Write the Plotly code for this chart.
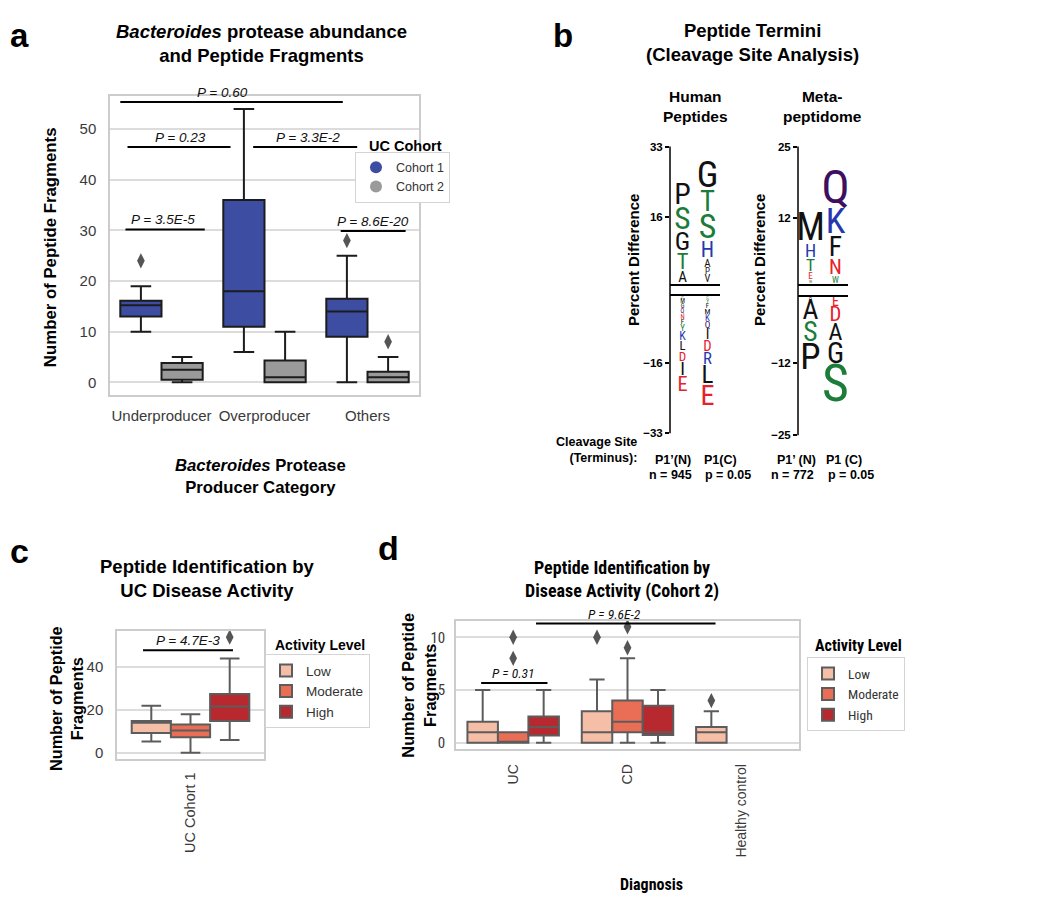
import plotly.graph_objects as go

OFF = 8  # browser body margin
W, H = 1050 - 2 * OFF, 902 - 2 * OFF
Y_SHIFT, Y_SCALE = 3.85, 0.991  # empirical page-to-picture mapping


def px(x):
    return (x - OFF) / W


def py(y):
    return 1 - ((y - Y_SHIFT) / Y_SCALE - OFF) / H


FONT = "Liberation Sans, Arial, sans-serif"
NARROW = "Liberation Sans Narrow, Arial Narrow, Roboto Condensed, Noto Sans Condensed, Liberation Sans, sans-serif"
LOGO_FONT = "Noto Sans ExtraCondensed, Noto Sans Condensed, Roboto Condensed, Liberation Sans Narrow, DejaVu Sans Condensed, sans-serif"
TICK_COL = "#3a3a3a"

# ---------------- Panel a data ----------------
a_categories = ["Underproducer", "Overproducer", "Others"]
a_cohorts = ["Cohort 1", "Cohort 2"]
a_c1_lower = [10, 6, 0]
a_c1_q1 = [13, 11, 9]
a_c1_median = [15.2, 18, 14]
a_c1_q3 = [16.1, 36, 16.5]
a_c1_upper = [19, 54, 25]
a_c1_outliers = [[24], [], [28]]
a_c2_lower = [0, 0, 0]
a_c2_q1 = [0.5, 0, 0]
a_c2_median = [2.5, 1, 1]
a_c2_q3 = [3.8, 4.3, 2.1]
a_c2_upper = [5, 10, 5]
a_c2_outliers = [[], [], [8]]
a_brackets = [  # x0, x1, y, text x, label
    (-0.40, 1.76, 55.4, 0.59, "P = 0.60"),
    (-0.33, 0.67, 46.5, 0.18, "P = 0.23"),
    (0.89, 1.90, 46.5, 1.42, "P = 3.3E-2"),
    (-0.35, 0.42, 30.2, 0.01, "P = 3.5E-5"),
    (1.74, 2.37, 29.9, 2.05, "P = 8.6E-20"),
]

# ---------------- Panel b data (sequence logos) ----------------
human_n_pos_letters = ["A", "T", "G", "S", "P"]
human_n_pos_heights = [2.9, 4.3, 5.0, 6.0, 5.7]
human_c_pos_letters = ["V", "P", "A", "H", "S", "T", "G"]
human_c_pos_heights = [2.0, 1.7, 2.1, 4.1, 6.5, 5.5, 7.0]
human_n_neg_letters = ["C", "M", "G", "Q", "N", "F", "Y", "K", "L", "D", "I", "E"]
human_n_neg_heights = [0.8, 1.2, 1.2, 1.2, 1.3, 1.4, 1.7, 2.3, 2.4, 2.5, 3.6, 3.9]
human_c_neg_letters = ["C", "Y", "F", "M", "K", "Q", "I", "D", "R", "L", "E"]
human_c_neg_heights = [0.8, 1.0, 1.3, 1.5, 1.7, 1.8, 2.8, 2.8, 3.2, 4.8, 5.4]
meta_n_pos_letters = ["W", "E", "T", "H", "M"]
meta_n_pos_heights = [0.6, 1.3, 2.5, 2.6, 5.5]
meta_c_pos_letters = ["W", "N", "F", "K", "Q"]
meta_c_pos_heights = [1.3, 3.0, 4.0, 5.2, 6.8]
meta_n_neg_letters = ["Q", "A", "S", "P"]
meta_n_neg_heights = [0.8, 4.0, 4.0, 5.3]
meta_c_neg_letters = ["E", "D", "A", "G", "S"]
meta_c_neg_heights = [2.0, 3.0, 3.5, 4.2, 7.5]
human_range = 33
human_ticks = [16, 33]
meta_range = 25
meta_ticks = [12, 25]

# ---------------- Panel c data ----------------
activity_levels = ["Low", "Moderate", "High"]
c_categories = ["UC Cohort 1"]
c_lower = [5.3, 0, 6]
c_q1 = [9.3, 7.3, 14.9]
c_median = [14, 10.4, 21.6]
c_q3 = [14.9, 13.2, 27.4]
c_upper = [22, 18, 44]
c_outliers = [[], [], [54]]
c_brackets = [(-0.323, 0.289, 47.9, -0.02, "P = 4.7E-3")]

# ---------------- Panel d data ----------------
d_categories = ["UC", "CD", "Healthy control"]
d_low_lower = [0, 0, 0]
d_low_q1 = [0, 0, 0]
d_low_median = [1, 1, 1]
d_low_q3 = [2, 3, 1.5]
d_low_upper = [5, 6, 3]
d_low_outliers = [[], [10], [4]]
d_mod_lower = [0, 0]
d_mod_q1 = [0, 1]
d_mod_median = [0, 2]
d_mod_q3 = [1, 4]
d_mod_upper = [0, 8]
d_mod_outliers = [[8, 10], [9, 11]]
d_high_lower = [0, 0]
d_high_q1 = [0.7, 0.75]
d_high_median = [1.5, 1]
d_high_q3 = [2.5, 3.5]
d_high_upper = [5, 5]
d_high_outliers = [[], []]
d_brackets = [
    (-0.28, 0.30, 5.66, 0.0, "P = 0.31"),
    (0.20, 1.77, 11.3, 0.89, "P = 9.6E-2"),
]

# ---------------- styles ----------------
A_COLORS = ["#3d4ea2", "#9a9a9a"]
A_LINE = "#1c1c1c"
ACT_COLORS = ["#f4bea7", "#ea6e55", "#b8292f"]
ACT_LINE = "#5c5c5c"
OUT_COL = "#555555"
LETTER_COLORS = {
    "A": "#111111", "G": "#111111", "P": "#111111", "M": "#111111", "F": "#111111",
    "L": "#111111", "I": "#111111", "V": "#111111",
    "S": "#1b7d39", "T": "#1b7d39", "Y": "#1b7d39", "W": "#1b7d39", "C": "#1b7d39",
    "H": "#2638b0", "K": "#2638b0", "R": "#2638b0",
    "D": "#e8202a", "E": "#e8202a", "N": "#e8202a",
    "Q": "#3e0f5f",
}

fig = go.Figure()


def add_boxes(cats, stats_list, colors, line_col, width, xa, ya, legend, names, outliers_list, showlegend):
    n = len(stats_list)
    for h, (stats, col, name, outs) in enumerate(zip(stats_list, colors, names, outliers_list)):
        lo, q1, med, q3, hi = stats
        off = (h - (n - 1) / 2) * width
        xs = [i + off for i in range(len(q1))]
        fig.add_trace(go.Box(
            x=xs, q1=q1, median=med, q3=q3, lowerfence=lo, upperfence=hi,
            width=width, fillcolor=col, line=dict(color=line_col, width=2),
            whiskerwidth=0.5, boxpoints=False, name=name, xaxis=xa, yaxis=ya,
            legend=legend, showlegend=showlegend, hoverinfo="skip"))
        ox, oy = [], []
        for i, vals in enumerate(outs):
            for v in vals:
                ox.append(i + off)
                oy.append(v)
        if ox:
            fig.add_trace(go.Scatter(
                x=ox, y=oy, mode="markers", xaxis=xa, yaxis=ya, showlegend=False,
                marker=dict(symbol="diamond-tall", size=11, color=OUT_COL),
                hoverinfo="skip", cliponaxis=False))


# Panel a boxes
add_boxes(a_categories,
          [(a_c1_lower, a_c1_q1, a_c1_median, a_c1_q3, a_c1_upper),
           (a_c2_lower, a_c2_q1, a_c2_median, a_c2_q3, a_c2_upper)],
          A_COLORS, A_LINE, 0.4, "x", "y", "legend", a_cohorts,
          [a_c1_outliers, a_c2_outliers], False)
for name, col in zip(a_cohorts, A_COLORS):
    fig.add_trace(go.Scatter(x=[None], y=[None], mode="markers", name=name,
                             marker=dict(symbol="circle", size=12, color=col),
                             xaxis="x", yaxis="y", legend="legend"))

# Panel c boxes
add_boxes(c_categories,
          [([c_lower[i]], [c_q1[i]], [c_median[i]], [c_q3[i]], [c_upper[i]]) for i in range(3)],
          ACT_COLORS, ACT_LINE, 0.8 / 3, "x2", "y2", "legend2", activity_levels,
          [[c_outliers[i]] for i in range(3)], True)

# Panel d boxes
add_boxes(d_categories,
          [(d_low_lower, d_low_q1, d_low_median, d_low_q3, d_low_upper),
           (d_mod_lower, d_mod_q1, d_mod_median, d_mod_q3, d_mod_upper),
           (d_high_lower, d_high_q1, d_high_median, d_high_q3, d_high_upper)],
          ACT_COLORS, ACT_LINE, 0.8 / 3, "x3", "y3", "legend3", activity_levels,
          [d_low_outliers, d_mod_outliers, d_high_outliers], True)

# Logos
HUM_PPU = 138 / human_range
META_PPU = 138 / meta_range
LETTER_SCALE = 0.9 / 0.72


def add_logo(letters, heights, col, sign, ppu, xa, ya):
    ys, cum = [], 0.0
    for h in heights:
        ys.append(sign * (cum + h / 2))
        cum += h
    fig.add_trace(go.Scatter(
        x=[col + 0.5] * len(letters), y=ys, mode="text", text=letters,
        textposition="middle center",
        textfont=dict(size=[h * ppu * LETTER_SCALE for h in heights],
                      color=[LETTER_COLORS[l] for l in letters], family=LOGO_FONT),
        xaxis=xa, yaxis=ya, showlegend=False, cliponaxis=False, hoverinfo="skip"))


add_logo(human_n_pos_letters, human_n_pos_heights, 0, 1, HUM_PPU, "x4", "y4")
add_logo(human_c_pos_letters, human_c_pos_heights, 1, 1, HUM_PPU, "x4", "y4")
add_logo(human_n_neg_letters, human_n_neg_heights, 0, -1, HUM_PPU, "x5", "y5")
add_logo(human_c_neg_letters, human_c_neg_heights, 1, -1, HUM_PPU, "x5", "y5")
add_logo(meta_n_pos_letters, meta_n_pos_heights, 0, 1, META_PPU, "x6", "y6")
add_logo(meta_c_pos_letters, meta_c_pos_heights, 1, 1, META_PPU, "x6", "y6")
add_logo(meta_n_neg_letters, meta_n_neg_heights, 0, -1, META_PPU, "x7", "y7")
add_logo(meta_c_neg_letters, meta_c_neg_heights, 1, -1, META_PPU, "x7", "y7")

# ---------------- axes ----------------
box_axis = dict(showline=True, mirror=True, linecolor="#cccccc", linewidth=1.5,
                zeroline=False, ticks="outside", tickcolor="rgba(0,0,0,0)")
layout = dict(
    width=W, height=H, margin=dict(l=0, r=0, t=0, b=0),
    paper_bgcolor="white", plot_bgcolor="white",
    font=dict(family=FONT, color="#000"), boxmode="overlay",
    xaxis=dict(domain=[px(110), px(419)], range=[-0.5, 2.5], tickvals=[0, 1, 2],
               ticktext=a_categories, showgrid=False, ticklen=6,
               tickfont=dict(size=15, color=TICK_COL), anchor="y", **box_axis),
    yaxis=dict(domain=[py(395), py(94)], range=[-2.6, 56.6], tickvals=[0, 10, 20, 30, 40, 50],
               showgrid=True, gridcolor="#dcdcdc", gridwidth=1.5, ticklen=9,
               tickfont=dict(size=15, color=TICK_COL), anchor="x", **box_axis),
    xaxis2=dict(domain=[px(117), px(264)], range=[-0.5, 0.5], tickvals=[0],
                ticktext=c_categories, tickangle=-90, showgrid=False, ticklen=6,
                tickfont=dict(size=14.5, color=TICK_COL), anchor="y2", **box_axis),
    yaxis2=dict(domain=[py(760), py(632)], range=[-2.8, 56.7], tickvals=[0, 20, 40],
                showgrid=True, gridcolor="#dcdcdc", gridwidth=1.5, ticklen=9,
                tickfont=dict(size=15, color=TICK_COL), anchor="x2", **box_axis),
    xaxis3=dict(domain=[px(456), px(799)], range=[-0.5, 2.5], tickvals=[0, 1, 2],
                ticktext=d_categories, tickangle=-90, showgrid=False, ticklen=8,
                tickfont=dict(size=14, color=TICK_COL, family=FONT), anchor="y3", **box_axis),
    yaxis3=dict(domain=[py(750), py(622)], range=[-0.57, 11.5], tickvals=[0, 5, 10],
                showgrid=True, gridcolor="#dcdcdc", gridwidth=1.5, ticklen=6,
                tickfont=dict(size=15, color=TICK_COL, family=NARROW), anchor="x3", **box_axis),
)

logo_x = dict(range=[0, 2], showgrid=False, zeroline=False, showticklabels=False,
              ticks="", showline=True, linecolor="black", linewidth=1.5)
logo_y = dict(showgrid=False, zeroline=False, showline=False, ticks="outside", ticklen=4,
              tickwidth=1.5, tickcolor="black",
              tickfont=dict(size=11.5, color="black", weight="bold"))
layout["xaxis4"] = dict(domain=[px(670), px(720)], anchor="y4", side="bottom", **logo_x)
layout["yaxis4"] = dict(domain=[py(283), py(145)], range=[0, human_range], anchor="x4",
                        tickvals=human_ticks, **logo_y)
layout["xaxis5"] = dict(domain=[px(670), px(720)], anchor="y5", side="top", **logo_x)
layout["yaxis5"] = dict(domain=[py(433), py(295)], range=[-human_range, 0], anchor="x5",
                        tickvals=[-t for t in human_ticks], **logo_y)
layout["xaxis6"] = dict(domain=[px(798), px(848)], anchor="y6", side="bottom", **logo_x)
layout["yaxis6"] = dict(domain=[py(283), py(145)], range=[0, meta_range], anchor="x6",
                        tickvals=meta_ticks, **logo_y)
layout["xaxis7"] = dict(domain=[px(798), px(848)], anchor="y7", side="top", **logo_x)
layout["yaxis7"] = dict(domain=[py(435), py(296)], range=[-meta_range, 0], anchor="x7",
                        tickvals=[-t for t in meta_ticks], **logo_y)

legend_common = dict(xanchor="left", yanchor="top", bgcolor="white", bordercolor="#d4d4d4",
                     borderwidth=1, tracegroupgap=0, itemclick=False)
layout["legend"] = dict(x=px(355), y=py(150), font=dict(size=12.5, color="#333"), **legend_common)
layout["legend2"] = dict(x=px(265), y=py(655), font=dict(size=13.5, color="#333"), **legend_common)
layout["legend3"] = dict(x=px(807), y=py(658), font=dict(size=13.5, color="#333", family=NARROW),
                         **legend_common)

fig.update_layout(**layout)

# ---------------- shapes & annotations ----------------
shapes = []
annotations = []


def bracket(x0, x1, y, tx, label, xa, ya, size, family):
    shapes.append(dict(type="line", xref=xa, yref=ya, x0=x0, x1=x1, y0=y, y1=y,
                       line=dict(color="black", width=2)))
    annotations.append(dict(xref=xa, yref=ya, x=tx, y=y, text="<i>%s</i>" % label,
                            showarrow=False, yanchor="bottom", xanchor="center",
                            font=dict(size=size, color="#111", family=family)))


for b in a_brackets:
    bracket(*b, "x", "y", 13.5, FONT)
for b in c_brackets:
    bracket(*b, "x2", "y2", 13.5, FONT)
for b in d_brackets:
    bracket(*b, "x3", "y3", 13.5, NARROW)

# logo vertical axis lines (bridging the zero gap)
shapes.append(dict(type="line", xref="paper", yref="paper", x0=px(670), x1=px(670),
                   y0=py(145), y1=py(433), line=dict(color="black", width=1.5)))
shapes.append(dict(type="line", xref="paper", yref="paper", x0=px(798), x1=px(798),
                   y0=py(145), y1=py(435), line=dict(color="black", width=1.5)))


def text(x, y, s, size, bold=True, angle=0, xanchor="center", family=FONT, color="#000", align="center"):
    annotations.append(dict(xref="paper", yref="paper", x=px(x), y=py(y),
                            text=("<b>%s</b>" % s) if bold else s, showarrow=False,
                            xanchor=xanchor, yanchor="middle", textangle=angle, align=align,
                            font=dict(size=size, family=family, color=color)))


# panel letters
text(19, 33, "a", 33)
text(563, 33, "b", 33)
text(19, 551, "c", 34)
text(388, 548, "d", 34)
# titles
text(262, 41, "<i>Bacteroides</i> protease abundance<br>and Peptide Fragments", 18.5)
text(752, 40, "Peptide Termini<br>(Cleavage Site Analysis)", 18.5)
text(695, 105, "Human<br>Peptides", 15.5)
text(822, 105, "Meta-<br>peptidome", 15.5)
text(207, 579, "Peptide Identification by<br>UC Disease Activity", 18.5)
text(622, 579.5, "Peptide Identification by<br>Disease Activity (Cohort 2)", 18, family=NARROW)
# axis titles
text(50, 246, "Number of Peptide Fragments", 16.8, angle=-90)
text(260, 476.5, "<i>Bacteroides</i> Protease<br>Producer Category", 16.7)
text(633, 259, "Percent Difference", 15, angle=-90)
text(759, 259, "Percent Difference", 15, angle=-90)
text(66, 700, "Number of Peptide<br>Fragments", 16.3, angle=-90)
text(418.5, 686, "Number of Peptide<br>Fragments", 16.3, angle=-90)
text(651, 886, "Diagnosis", 16, family=NARROW)
# logo footers
text(639, 449.5, "Cleavage Site<br>(Terminus):", 12.5, xanchor="right", align="right")
text(673, 460, "P1\u2019(N)", 12.5)
text(670, 475, "n = 945", 12.5)
text(720, 460, "P1(C)", 12.5)
text(728, 475, "p = 0.05", 12.5)
text(796, 460, "P1\u2019 (N)", 12.5)
text(792, 475, "n = 772", 12.5)
text(844, 460, "P1 (C)", 12.5)
text(851, 475, "p = 0.05", 12.5)
# legend titles
text(367, 144, "UC Cohort", 14.5, xanchor="left")
text(273, 646, "Activity Level", 14, xanchor="left")
text(813, 646, "Activity Level", 16, xanchor="left", family=NARROW)

fig.update_layout(shapes=shapes, annotations=annotations)
fig.write_html("out.html")
